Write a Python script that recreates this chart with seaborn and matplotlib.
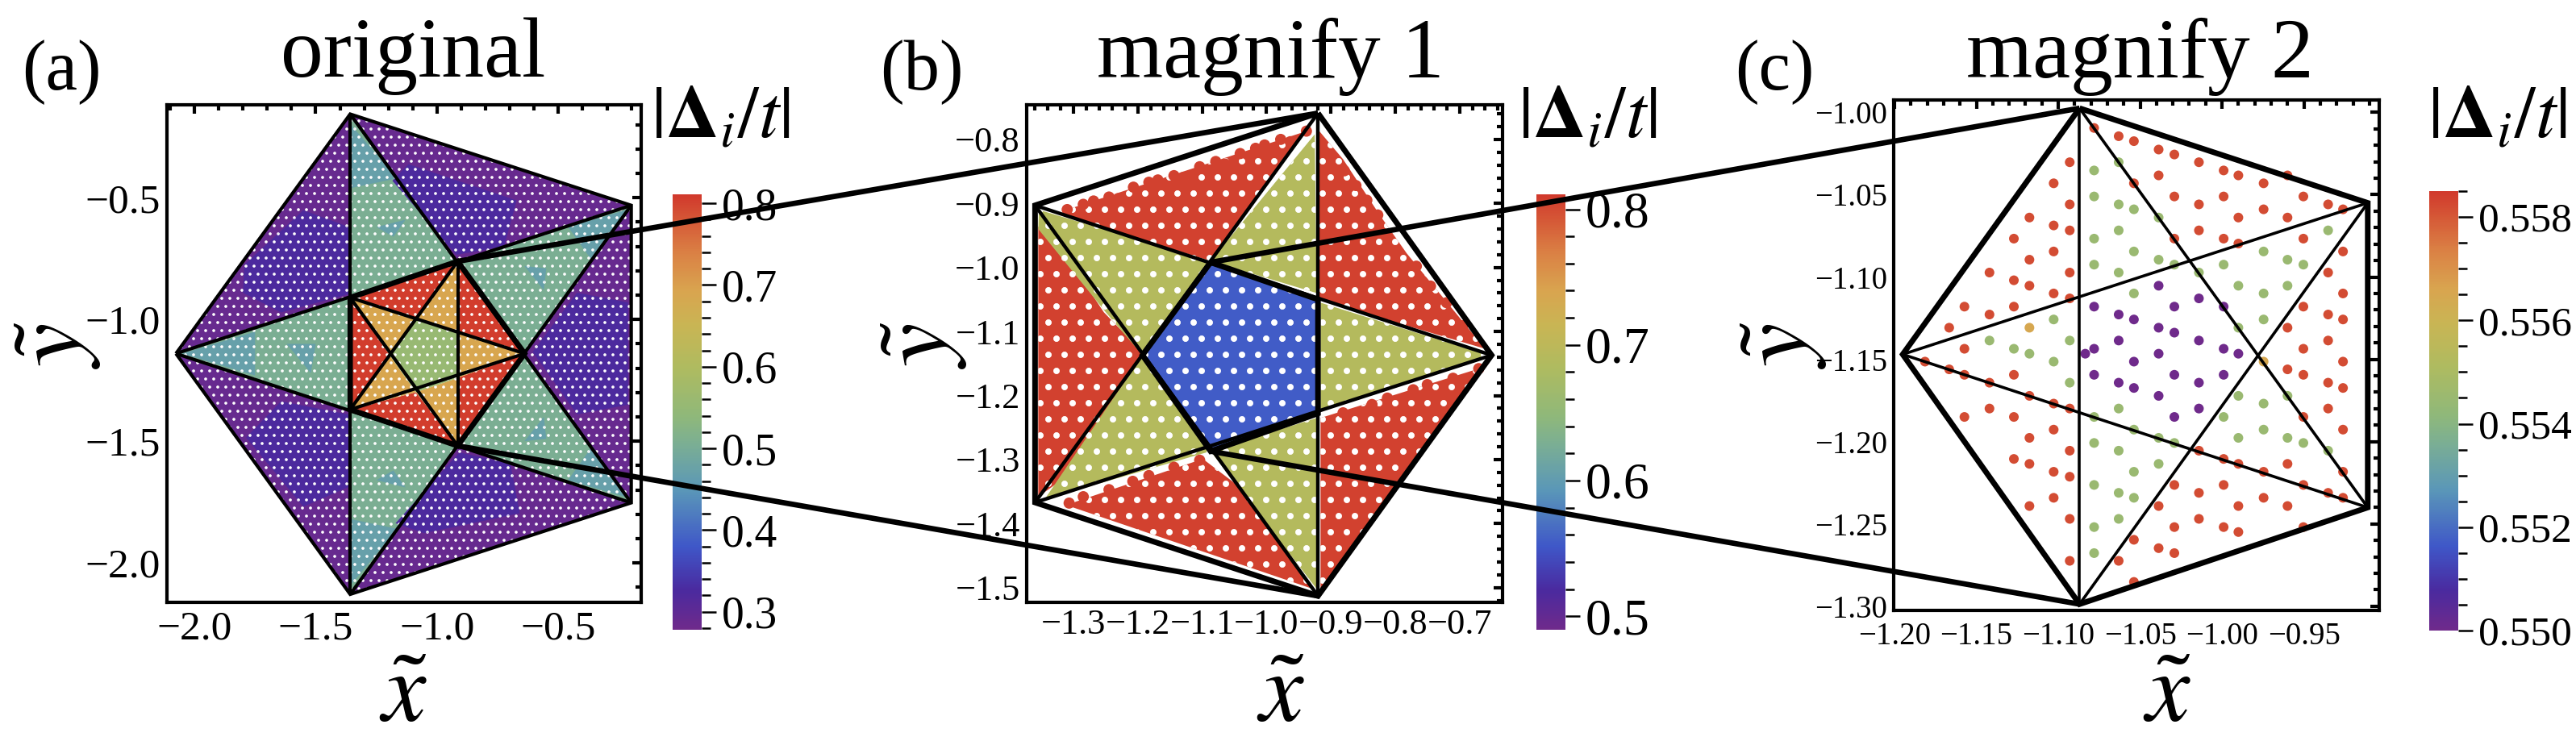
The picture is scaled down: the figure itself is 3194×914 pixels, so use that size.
import numpy as np
import pandas as pd
import matplotlib
matplotlib.use("Agg")
import matplotlib.pyplot as plt
import seaborn as sns
from matplotlib.colors import LinearSegmentedColormap, Normalize
from matplotlib.cm import ScalarMappable
from matplotlib.patches import ConnectionPatch
from matplotlib.ticker import MultipleLocator, AutoMinorLocator, FuncFormatter

# ---------- data ----------
# panel (a): pentagon vertices
L, T1, R1, R2, B1 = (-2.076, -1.14), (-1.358, -0.156), (-0.2, -0.531), (-0.2, -1.753), (-1.358, -2.129)
E, A, B, C, D = (-1.358, -0.91), (-0.915, -0.761), (-0.639, -1.14), (-0.915, -1.519), (-1.358, -1.37)
P1, P2, P3, P4, P5 = (-1.087, -0.9975), (-0.915, -1.055), (-0.915, -1.24), (-1.087, -1.2987), (-1.195, -1.147)

# shared gap levels of the regions
VAL_PURPLE, VAL_INDIGO = 0.29, 0.325
VAL_TEAL, VAL_SEA = 0.47, 0.505
VAL_CENTRE, VAL_OLIVE, VAL_RED = 0.555, 0.69, 0.805

A_PURPLE = [[L, T1, E], [T1, R1, A], [R1, R2, B], [R2, B1, C], [B1, L, D]]
A_INDIGO = [
    [(-1.794, -0.775), (-1.551, -0.551), (-1.365, -0.619), (-1.365, -0.896), (-1.643, -0.971), (-1.8, -0.89)],
    [(-1.118, -0.362), (-0.672, -0.511), (-0.724, -0.70), (-0.921, -0.734), (-1.184, -0.43)],
    [(-0.606, -1.133), (-0.423, -0.89), (-0.213, -0.93), (-0.213, -1.35), (-0.423, -1.39)],
    [(-0.908, -1.546), (-0.698, -1.593), (-0.659, -1.796), (-1.053, -1.878), (-1.171, -1.837)],
    [(-1.365, -1.39), (-1.365, -1.688), (-1.551, -1.769), (-1.787, -1.485), (-1.643, -1.336)],
]
A_SEA = [[L, E, D], [T1, A, E], [R1, B, A], [R2, C, B], [B1, D, C]]
A_TEAL = [
    [(-2.05, -1.14), (-1.75, -1.05), (-1.75, -1.23)],
    [(-1.62, -1.10), (-1.50, -1.10), (-1.52, -1.22)],
    [(-1.355, -0.2), (-1.355, -0.46), (-1.165, -0.42)],
    [(-1.25, -0.62), (-1.13, -0.59), (-1.18, -0.66)],
    [(-0.22, -0.55), (-0.46, -0.62), (-0.36, -0.76)],
    [(-0.64, -0.78), (-0.55, -0.79), (-0.56, -0.88)],
    [(-0.22, -1.73), (-0.46, -1.66), (-0.36, -1.52)],
    [(-0.64, -1.50), (-0.55, -1.49), (-0.56, -1.40)],
    [(-1.355, -2.09), (-1.355, -1.82), (-1.165, -1.86)],
    [(-1.25, -1.66), (-1.13, -1.69), (-1.18, -1.62)],
]
A_RED = [[E, A, P1], [A, B, P2], [B, C, P3], [C, D, P4], [D, E, P5]]
A_OLIVE = [[A, P1, P2], [B, P2, P3], [C, P3, P4], [D, P4, P5], [E, P5, P1]]
A_CENTRE = [[P1, P2, P3, P4, P5]]
A_THICK = [[E, A, B, C, D, E]]
A_THIN = [[L, T1, R1, R2, B1, L], [T1, B1], [L, R1], [L, R2], [T1, R2], [B1, R1],
          [E, B], [B, D], [D, A], [A, C], [C, E]]

# panel (b): pentagon vertices
BT, BLT, BLB, BB, BR = (-0.92, -0.759), (-1.36, -0.903), (-1.36, -1.367), (-0.92, -1.513), (-0.65, -1.137)
BI1, BI2, BI3, BI4, BI5 = (-1.087, -0.992), (-0.92, -1.05), (-0.92, -1.228), (-1.087, -1.287), (-1.193, -1.137)
B_RED = [
    [(-1.31, -0.9096), (-0.938, -0.7871), (-1.087, -0.99), (-1.315, -0.918)],
    [(-0.918, -0.787), (-0.881, -0.831), (-0.824, -0.918), (-0.782, -0.978), (-0.66, -1.127), (-0.92, -1.05)],
    [(-0.67, -1.158), (-0.916, -1.235), (-0.916, -1.51), (-0.65, -1.137)],
    [(-1.312, -1.371), (-1.099, -1.299), (-1.035, -1.348), (-0.995, -1.40), (-0.955, -1.461), (-0.928, -1.502)],
    [(-1.355, -0.936), (-1.29, -1.014), (-1.253, -1.07), (-1.198, -1.127), (-1.193, -1.147), (-1.327, -1.338), (-1.355, -1.358)],
]
B_OLIVE = [
    [(-0.925, -0.792), (-0.922, -1.04), (-1.087, -0.99)],
    [(-0.916, -1.055), (-0.655, -1.137), (-0.916, -1.222)],
    [(-1.087, -1.287), (-0.922, -1.235), (-0.922, -1.502)],
    [(-1.345, -1.362), (-1.193, -1.137), (-1.087, -1.287)],
    [(-1.354, -0.91), (-1.087, -0.99), (-1.193, -1.137), (-1.25, -1.07), (-1.355, -0.94)],
]
B_CENTRE = [[BI1, BI2, BI3, BI4, BI5]]
B_THICK = [[BT, BLT, BLB, BB, BR, BT], [BI1, BI2, BI3, BI4, BI5, BI1]]
B_THIN = [[BT, BB], [BT, BLB], [BB, BLT], [BLT, BR], [BLB, BR]]
# scalloped rims of the red regions
B_RIM_X = [-1.31, -1.285, -1.269, -1.245, -1.231, -1.207, -1.183, -1.169, -1.144, -1.129, -1.104, -1.079, -1.064,
           -1.041, -1.017, -1.003, -0.978, -0.963, -0.938,
           -0.901, -0.879, -0.861, -0.844, -0.827, -0.767, -0.745, -0.72, -0.695,
           -0.881, -0.836, -0.812, -0.772, -0.75, -0.71, -0.67,
           -1.307, -1.285, -1.245, -1.208, -1.183, -1.144, -1.104]
B_RIM_Y = [-0.9096, -0.9014, -0.8962, -0.89, -0.8926, -0.8746, -0.8669, -0.8633, -0.8566, -0.8592, -0.8427, -0.8345, -0.8386,
           -0.8221, -0.8139, -0.8087, -0.8, -0.8036, -0.7871,
           -0.826, -0.849, -0.872, -0.895, -0.918, -0.998, -1.029, -1.055, -1.091,
           -1.227, -1.214, -1.204, -1.191, -1.183, -1.173, -1.158,
           -1.368, -1.358, -1.347, -1.334, -1.325, -1.312, -1.301]

# panel (c): pentagon vertices and sites
CT, CRT, CRB, CB, CL = (-1.087, -0.9975), (-0.911, -1.055), (-0.911, -1.24), (-1.087, -1.2987), (-1.195, -1.147)
C_THICK = [[CT, CRT, CRB, CB, CL, CT]]
C_THIN = [[CT, CB], [CT, CRB], [CB, CRT], [CL, CRT], [CL, CRB]]
C_LEVEL_RED, C_LEVEL_ORANGE, C_LEVEL_GREEN, C_LEVEL_PURPLE = 0.5582, 0.5565, 0.5545, 0.5500
C_RED = {
    -1.1814: [-1.1514],
    -1.1666: [-1.1308, -1.1561],
    -1.1573: [-1.118, -1.1436, -1.1594, -1.185],
    -1.142: [-1.0973, -1.1228, -1.1642, -1.1799],
    -1.1271: [-1.0767, -1.102, -1.118, -1.1594, -1.185, -1.2105],
    -1.1176: [-1.0639, -1.0895, -1.1053, -1.1722, -1.1977, -1.2135, -1.2391],
    -1.1028: [-1.0431, -1.0687, -1.0845, -1.11, -1.1769, -1.1927, -1.2183, -1.2341],
    -1.093: [-1.0303, -1.0559, -1.0717, -1.0973, -1.113, -1.1799, -1.2055, -1.2213, -1.2469, -1.2724],
    -1.0781: [-1.0095],
    -1.0631: [-1.0145, -1.2724],
    -1.0538: [-1.0175, -1.0431, -1.2596, -1.2852],
    -1.0387: [-1.0226, -1.0383, -1.2391, -1.2647],
    -1.0291: [-1.0256, -1.0511, -1.0767, -1.2263, -1.2519, -1.2677],
    -1.0141: [-1.0303, -1.0559, -1.0717, -1.2055, -1.2311, -1.2469],
    -0.999: [-1.0353, -1.0511, -1.0767, -1.2105, -1.2263, -1.2519],
    -0.99: [-1.0383, -1.0639, -1.0797, -1.2135, -1.2391, -1.2549],
    -0.9746: [-1.0431, -1.0589, -1.2183, -1.2341],
    -0.96: [-1.0383, -1.0639, -1.1308, -1.1561, -1.2135, -1.2391],
    -0.9503: [-1.0511, -1.0767, -1.118, -1.1436, -1.1594, -1.185, -1.2263, -1.2519],
    -0.9352: [-1.0559, -1.0973, -1.1228, -1.1386, -1.1642, -1.1799, -1.2311],
    -0.9261: [-1.0589, -1.0845, -1.11, -1.1258, -1.1514, -1.1674, -1.1927, -1.2183, -1.2341],
}
C_GREEN = {
    -1.142: [-1.1386],
    -1.1271: [-1.1436],
    -1.1176: [-1.1466],
    -1.1028: [-1.1258, -1.1514],
    -1.093: [-1.1386, -1.1642],
    -1.0781: [-1.0353, -1.0511, -1.0767, -1.0925, -1.185, -1.2008, -1.2263, -1.2519, -1.2677],
    -1.0631: [-1.0303, -1.0559, -1.0717, -1.0973, -1.1799, -1.2055, -1.2311, -1.2469],
    -1.0538: [-1.0589, -1.0845, -1.11, -1.1927, -1.2183, -1.2341],
    -1.0387: [-1.0639, -1.0895, -1.1977, -1.2135],
    -1.0291: [-1.0925, -1.2008],
    -1.0141: [-1.0973],
    -0.999: [-1.0925, -1.185],
    -0.99: [-1.1053, -1.1308, -1.1722, -1.1977],
    -0.9746: [-1.0845, -1.11, -1.1258, -1.1769, -1.1927],
    -0.96: [-1.0895, -1.1053, -1.1722, -1.1977],
    -0.9503: [-1.0925, -1.2008],
    -0.9352: [-1.0717, -1.2055],
}
C_ORANGE = {-1.1176: [-1.1308], -0.9746: [-1.1514]}
C_PURPLE = {
    -1.0835: [-1.1466],
    -1.0781: [-1.118, -1.1436, -1.1594],
    -1.0631: [-1.1228, -1.1386, -1.1642],
    -1.0538: [-1.1258, -1.1514, -1.1674],
    -1.0387: [-1.1053, -1.1308, -1.1466, -1.1722],
    -1.0291: [-1.118, -1.1338, -1.1594, -1.185],
    -1.0141: [-1.113, -1.1386, -1.1642, -1.1799],
    -0.999: [-1.118, -1.1436, -1.1594],
    -0.99: [-1.1466],
}

# axis ranges and ticks
A_XLIM, A_YLIM = (-2.113, -0.159), (-2.162, -0.118)
B_XLIM, B_YLIM = (-1.373, -0.633), (-1.523, -0.746)
C_XLIM, C_YLIM = (-1.2005, -0.904), (-1.3025, -0.9925)
A_CBAR, B_CBAR, C_CBAR = (0.278, 0.811), (0.49, 0.811), (0.55, 0.5585)
TITLES = ["original", "magnify 1", "magnify 2"]
PANEL_TAGS = ["(a)", "(b)", "(c)"]
CBAR_LABEL = r"$|\mathbf{\Delta}_i/t|$"

# Rainbow colour scale of the figure
RAINBOW = [(0.0, "#6f2a8b"), (0.09, "#4a2a9f"), (0.19, "#3f57c8"), (0.32, "#5a97b8"), (0.43, "#7caf92"),
           (0.49, "#8fb87a"), (0.60, "#aebb60"), (0.70, "#c9b554"), (0.78, "#d9a44f"), (0.87, "#da7f44"),
           (1.0, "#d1392c")]
cmap = LinearSegmentedColormap.from_list("rainbow_ref", RAINBOW)

# ---------- figure ----------
W, H = 3194, 914
DPI = 120
K = 100 / DPI   # sizes below are written for 100 dpi; hatch spacing follows the dpi
sns.set_theme(style="white", rc={"axes.grid": False})
plt.rcParams["font.family"] = ["Liberation Serif", "DejaVu Serif"]
plt.rcParams["mathtext.fontset"] = "stix"
fig = plt.figure(figsize=(W / DPI, H / DPI), dpi=DPI, facecolor="white")


def box(x0, x1, y0, y1):
    return [x0 / W, 1 - y1 / H, (x1 - x0) / W, (y1 - y0) / H]


def minus_fmt(decimals):
    return FuncFormatter(lambda v, _: f"{v:.{decimals}f}".replace("-", "\u2212"))


def frame(ax, xlim, ylim, xmaj, ymaj, size, decimals, xpad=6):
    ax.set_xlim(xlim)
    ax.set_ylim(ylim)
    ax.xaxis.set_major_locator(MultipleLocator(xmaj))
    ax.yaxis.set_major_locator(MultipleLocator(ymaj))
    ax.xaxis.set_minor_locator(AutoMinorLocator(5))
    ax.yaxis.set_minor_locator(AutoMinorLocator(5))
    ax.xaxis.set_major_formatter(minus_fmt(decimals))
    ax.yaxis.set_major_formatter(minus_fmt(decimals))
    ax.tick_params(which="major", direction="in", length=8 * K, width=3 * K, top=True, right=True, color="black",
                   labelsize=size * K, labelcolor="black", pad=6 * K)
    ax.tick_params(axis="x", which="major", pad=xpad * K)
    ax.tick_params(which="minor", direction="in", length=5 * K, width=3 * K, top=True, right=True, color="black")
    for s in ax.spines.values():
        s.set_linewidth(3 * K)
        s.set_color("black")
    ax.set_xlabel("")
    ax.set_ylabel("")


def regions(ax, polys, value, norm, hatch, hatch_lw, z=1):
    with plt.rc_context({"hatch.linewidth": hatch_lw * K}):
        for poly in polys:
            xs, ys = zip(*poly)
            ax.fill(xs, ys, facecolor=cmap(norm(value)), edgecolor="white", hatch=hatch, linewidth=0, zorder=z)


def lines(ax, paths, lw):
    for path in paths:
        xs, ys = zip(*path)
        ax.plot(xs, ys, color="black", lw=lw * K, solid_joinstyle="miter", solid_capstyle="butt", zorder=5)


def colorbar(x0, x1, y0, y1, rng, major, minor, size, decimals):
    cax = fig.add_axes(box(x0, x1, y0, y1))
    sm = ScalarMappable(norm=Normalize(*rng), cmap=cmap)
    cb = fig.colorbar(sm, cax=cax)
    cb.outline.set_visible(False)
    cb.ax.yaxis.set_major_locator(MultipleLocator(major))
    cb.ax.yaxis.set_minor_locator(MultipleLocator(minor))
    cb.ax.yaxis.set_major_formatter(minus_fmt(decimals))
    cb.ax.tick_params(which="major", direction="out", length=13 * K, width=1.8 * K, right=True, left=False,
                      color="black", labelsize=size * K, labelcolor="black", pad=5 * K)
    cb.ax.tick_params(which="minor", direction="out", length=8 * K, width=1.8 * K, right=True, left=False,
                      color="black")
    return cb


norm_a, norm_b = Normalize(*A_CBAR), Normalize(*B_CBAR)
norm_c = Normalize(*C_CBAR)

# panel (a)
ax_a = fig.add_axes(box(207, 795, 130, 747))
regions(ax_a, A_PURPLE, VAL_PURPLE, norm_a, "..", 1.2, 1)
regions(ax_a, A_INDIGO, VAL_INDIGO, norm_a, "..", 1.2, 2)
regions(ax_a, A_SEA, VAL_SEA, norm_a, "..", 1.2, 1.5)
regions(ax_a, A_TEAL, VAL_TEAL, norm_a, "..", 1.2, 2)
regions(ax_a, A_RED, VAL_RED, norm_a, "..", 1.2, 2)
regions(ax_a, A_OLIVE, VAL_OLIVE, norm_a, "..", 1.2, 2)
regions(ax_a, A_CENTRE, VAL_CENTRE, norm_a, "..", 1.2, 2)
lines(ax_a, A_THIN, 3.0)
lines(ax_a, A_THICK, 4.8)
frame(ax_a, A_XLIM, A_YLIM, 0.5, 0.5, 37, 1, xpad=7)

# panel (b)
ax_b = fig.add_axes(box(1273, 1863, 130, 747))
regions(ax_b, B_RED, VAL_RED, norm_b, ".", 2.8, 2)
regions(ax_b, B_OLIVE, VAL_OLIVE, norm_b, ".", 2.8, 2)
regions(ax_b, B_CENTRE, VAL_CENTRE, norm_b, ".", 2.8, 2)
rim = pd.DataFrame({"x": B_RIM_X, "y": B_RIM_Y, "v": VAL_RED})
sns.scatterplot(data=rim, x="x", y="y", hue="v", palette=cmap, hue_norm=norm_b, s=100 * K ** 2, linewidth=0,
                legend=False, ax=ax_b, zorder=2)
lines(ax_b, B_THIN, 3.2)
lines(ax_b, B_THICK, 5.0)
frame(ax_b, B_XLIM, B_YLIM, 0.1, 0.1, 32, 1)

# panel (c)
sites = []
for table, level in [(C_RED, C_LEVEL_RED), (C_ORANGE, C_LEVEL_ORANGE), (C_GREEN, C_LEVEL_GREEN), (C_PURPLE, C_LEVEL_PURPLE)]:
    for xv, ys in table.items():
        sites += [(xv, yv, level) for yv in ys]
sites = pd.DataFrame(sites, columns=["x", "y", "v"])
ax_c = fig.add_axes(box(2348, 2950, 124, 757))
sns.scatterplot(data=sites, x="x", y="y", hue="v", palette=cmap, hue_norm=norm_c, s=75 * K ** 2, linewidth=0,
                legend=False, ax=ax_c, zorder=2)
lines(ax_c, C_THIN, 2.6)
lines(ax_c, C_THICK, 5.0)
frame(ax_c, C_XLIM, C_YLIM, 0.05, 0.05, 28, 2, xpad=10)

# colour bars
colorbar(834, 870, 241, 781, A_CBAR, 0.1, 0.02, 40, 1)
colorbar(1905, 1941, 241, 781, B_CBAR, 0.1, 0.02, 46, 1)
colorbar(3012, 3048, 237, 782, C_CBAR, 0.002, 0.0005, 37, 3)

# connectors between the panels
for p, q, a1, a2 in [(A, BT, ax_a, ax_b), (C, BB, ax_a, ax_b), (BI1, CT, ax_b, ax_c), (BI4, CB, ax_b, ax_c)]:
    fig.add_artist(ConnectionPatch(p, q, coordsA=a1.transData, coordsB=a2.transData, color="black", lw=4.8 * K,
                                   zorder=10, capstyle="butt"))

# text
for cx, s in zip([512, 1575, 2653], TITLES):
    fig.text(cx / W, 1 - 70 / H, s, ha="center", va="center", fontsize=76 * K, color="black")
for cx, s in zip([76, 1143, 2200], PANEL_TAGS):
    fig.text(cx / W, 1 - 90 / H, s, ha="center", va="center", fontsize=64 * K, color="black")
for cx in [893, 1968, 3096]:
    fig.text(cx / W, 1 - 148 / H, CBAR_LABEL, ha="center", va="center", fontsize=66 * K, color="black")
for cx in [500, 1588, 2687]:
    fig.text(cx / W, 1 - 864 / H, r"$\tilde{x}$", ha="center", va="center", fontsize=88 * K, color="black")
for cx in [72, 1146, 2212]:
    fig.text(cx / W, 1 - 428 / H, r"$\tilde{y}$", ha="center", va="center", fontsize=88 * K, rotation=90, color="black")

fig.savefig("out.png", dpi=DPI, facecolor="white")
